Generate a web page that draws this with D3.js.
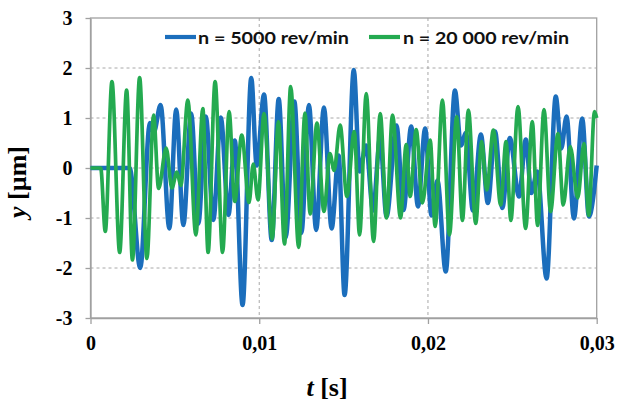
<!DOCTYPE html>
<html><head><meta charset="utf-8">
<script src="https://cdnjs.cloudflare.com/ajax/libs/d3/7.8.5/d3.min.js"></script>
<style>body{margin:0;background:#fff}svg{display:block}</style>
</head><body>
<svg id="c" width="617" height="403"></svg>
<script>
// time in ms, displacement in µm (local extrema)
const blueT = [0,2.320,2.947,3.521,3.757,4.154,4.675,5.077,5.503,5.964,6.391,6.834,7.278,7.722,8.178,8.550,9.012,9.527,9.852,10.284,10.740,11.154,11.568,12.083,12.497,12.947,13.373,13.834,14.290,14.704,15.059,15.604,15.947,16.331,16.746,17.160,17.544,18.136,18.550,19.006,19.408,19.834,20.207,20.562,21.053,21.598,21.953,22.249,22.663,23.136,23.550,23.976,24.408,24.852,25.396,25.799,26.124,26.479,27.030,27.574,27.899,28.213,28.651,29.142,29.538,30.0];
const blueY = [0,0,-2.0,0.9,0.72,1.26,-1.21,1.17,-1.14,1.09,-1.11,1.03,-1.04,1.01,-0.94,0.55,-2.74,1.8,0.05,1.47,-1.44,1.38,-1.39,1.33,-1.3,1.26,-1.24,1.21,-1.21,0.25,-2.54,1.96,-0.07,0.45,-0.85,0.6,-0.97,0.85,-0.84,0.83,-0.77,0.79,-0.95,-0.25,-2.07,1.55,0.45,0.7,-0.85,0.67,-0.7,0.73,-0.8,0.6,-0.57,0.57,-0.5,-0.07,-2.21,1.43,0.39,1.03,-1.01,0.99,-0.97,0.05];
const greenT = [0,0.604,0.876,1.272,1.728,2.142,2.485,2.911,3.343,3.740,4.036,4.485,4.822,5.118,5.355,5.769,6.243,6.657,6.970,7.385,7.828,8.213,8.550,8.964,9.396,9.645,9.929,10.284,10.769,11.136,11.497,11.864,12.337,12.710,13.018,13.420,13.834,14.189,14.438,14.793,15.195,15.633,15.947,16.343,16.775,17.172,17.544,17.899,18.373,18.710,18.947,19.302,19.675,20.130,20.426,20.858,21.272,21.704,22.041,22.396,22.828,23.183,23.479,23.876,24.308,24.627,24.911,25.337,25.787,26.183,26.497,26.876,27.266,27.704,28.018,28.432,28.876,29.243,29.527,29.870,30.0];
const greenY = [0,0,-1.27,1.73,-1.69,1.56,-1.84,1.81,-1.81,1.06,-0.41,0.4,-0.4,-0.08,-0.35,1.36,-1.34,1.19,-1.69,1.73,-1.69,1.13,-0.67,0.66,-0.69,0.08,-0.64,1.09,-1.42,0.93,-1.52,1.63,-1.59,1.1,-0.92,0.9,-0.87,0.29,-0.05,0.86,-0.57,0.73,-1.34,1.49,-1.47,1.09,-1.0,1.06,-1.0,0.47,-0.57,0.77,-0.7,0.56,-1.17,1.36,-1.34,1.03,-1.05,1.16,-1.11,0.53,-0.44,0.76,-0.74,0.53,-1.05,1.23,-1.21,0.93,-1.15,1.17,-0.87,0.69,-0.74,0.43,-0.6,0.49,-0.95,1.13,1.0];
const seriesNames = ["n = 5000 rev/min","n = 20 000 rev/min"];
const seriesColors = ["#1b6ebc","#24aa50"];
const xTicks = [0,0.01,0.02,0.03];
const xTickLabels = ["0","0,01","0,02","0,03"];
const yTicks = [-3,-2,-1,0,1,2,3];
const yTickLabels = ["-3","-2","-1","0","1","2","3"];

const svg = d3.select("#c");
const L=90.5,R=596.7,T=18,B=318;
const x = d3.scaleLinear().domain([0,0.03]).range([L,R]);
const y = d3.scaleLinear().domain([-3,3]).range([B,T]);

// grid
const g = svg.append("g");
g.selectAll(".hg").data(yTicks.filter(v=>v>-3&&v<3)).join("line")
 .attr("x1",L).attr("x2",R).attr("y1",d=>y(d)).attr("y2",d=>y(d))
 .attr("stroke","#a8a8a8").attr("stroke-width",1).attr("stroke-dasharray","3,3");
g.selectAll(".vg").data(xTicks.filter(v=>v>0&&v<0.03)).join("line")
 .attr("y1",T).attr("y2",B).attr("x1",d=>x(d)).attr("x2",d=>x(d))
 .attr("stroke","#a8a8a8").attr("stroke-width",1).attr("stroke-dasharray","3,3");

// border
svg.append("rect").attr("x",L).attr("y",T).attr("width",R-L).attr("height",B-T)
 .attr("fill","none").attr("stroke","#a0a0a0").attr("stroke-width",1.3);

// axes
const xAxis = svg.append("g").attr("transform",`translate(0,${B})`)
 .call(d3.axisBottom(x).tickValues(xTicks).tickSize(6).tickSizeOuter(0).tickFormat((d,i)=>xTickLabels[i]));
const yAxis = svg.append("g").attr("transform",`translate(${L},0)`)
 .call(d3.axisLeft(y).tickValues(yTicks).tickSize(5).tickSizeOuter(0).tickFormat((d,i)=>yTickLabels[i]));
[xAxis,yAxis].forEach(a=>{
  a.select(".domain").attr("stroke","#a0a0a0").attr("stroke-width",1.3);
  a.selectAll(".tick line").attr("stroke","#a0a0a0").attr("stroke-width",1.3);
  a.selectAll("text").attr("fill","#000").style("font-family","'Liberation Serif',serif")
   .style("font-weight","bold").style("font-size","20px");
});
xAxis.selectAll("text").attr("y",32).attr("dy","0");
yAxis.selectAll("text").attr("x",-18).attr("dy","0.33em");

// lines
const line = d3.line().x(d=>x(d[0]/1000)).y(d=>y(d[1])).curve(d3.curveMonotoneX);
const blue = blueT.map((t,i)=>[t,blueY[i]]);
const green = greenT.map((t,i)=>[t,greenY[i]]);
svg.append("path").attr("d",line(blue)).attr("fill","none").attr("stroke",seriesColors[0])
 .attr("stroke-width",4.5).attr("stroke-linejoin","round");
svg.append("path").attr("d",line(green)).attr("fill","none").attr("stroke",seriesColors[1])
 .attr("stroke-width",3.7).attr("stroke-linejoin","round");

// legend
const leg = [{x1:165,x2:196,tx:198,w:151},{x1:369,x2:400,tx:403,w:166}];
leg.forEach((l,i)=>{
  svg.append("line").attr("x1",l.x1).attr("x2",l.x2).attr("y1",37).attr("y2",37)
   .attr("stroke",seriesColors[i]).attr("stroke-width",4.2);
  svg.append("text").attr("x",l.tx).attr("y",43.5).text(seriesNames[i])
   .attr("textLength",l.w).attr("lengthAdjust","spacingAndGlyphs")
   .style("font-family","Lato, 'Open Sans', sans-serif").style("font-weight","bold")
   .style("font-size","17px").attr("fill","#111");
});

// axis titles
const yt = svg.append("text").attr("transform","translate(26,182) rotate(-90)")
 .attr("text-anchor","middle").style("font-family","'Liberation Serif',serif")
 .style("font-weight","bold").style("font-size","26px");
yt.append("tspan").style("font-style","italic").text("y");
yt.append("tspan").text(" [µm]");
const xt = svg.append("text").attr("x",327).attr("y",396)
 .attr("text-anchor","middle").style("font-family","'Liberation Serif',serif")
 .style("font-weight","bold").style("font-size","26px");
xt.append("tspan").style("font-style","italic").text("t");
xt.append("tspan").text(" [s]");
</script>
</body></html>
